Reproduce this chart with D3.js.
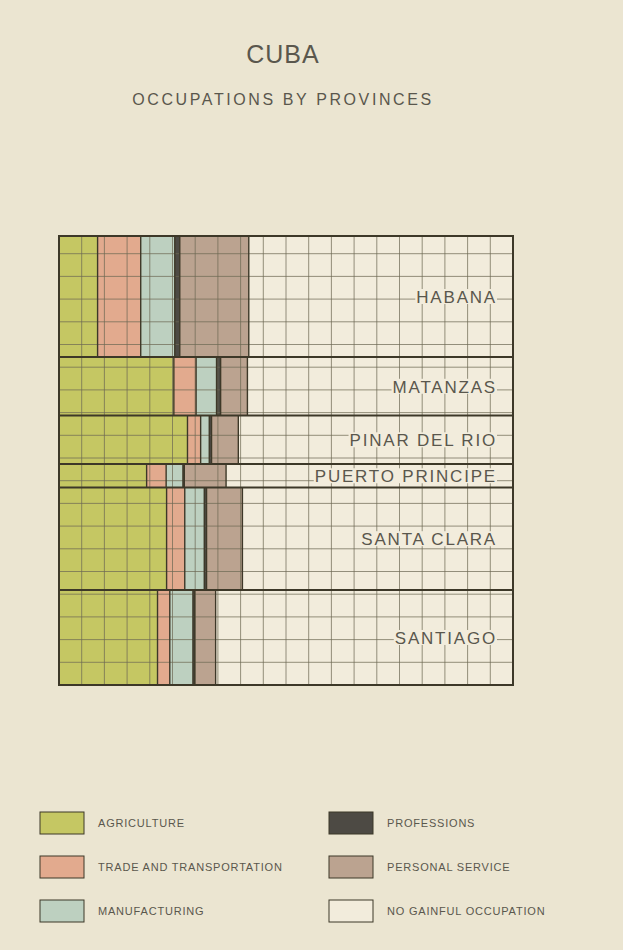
<!DOCTYPE html>
<html>
<head>
<meta charset="utf-8">
<script src="https://cdn.jsdelivr.net/npm/d3@7"></script>
<style>
  html, body { margin: 0; padding: 0; background: #ebe5d1; }
  svg { display: block; }
  text { font-family: "Liberation Sans", Arial, sans-serif; }
</style>
</head>
<body>
<svg id="chart" width="623" height="950"></svg>
<script>
// ---- data (read from the plate) ----
const provinces = ["HABANA", "MATANZAS", "PINAR DEL RIO", "PUERTO PRINCIPE", "SANTA CLARA", "SANTIAGO"];
const population = [424, 205, 170, 82, 359, 333]; // thousands, sets row heights
const categories = ["AGRICULTURE", "TRADE AND TRANSPORTATION", "MANUFACTURING", "PROFESSIONS", "PERSONAL SERVICE", "NO GAINFUL OCCUPATION"];
const agriculture     = [8.5, 25.3, 28.3, 19.3, 23.7, 21.7];
const trade           = [9.5, 4.9, 2.9, 4.3, 4.0, 2.7];
const manufacturing   = [7.5, 4.5, 1.9, 3.7, 4.3, 5.1];
const professions     = [1.1, 0.9, 0.5, 0.3, 0.5, 0.4];
const personalService = [15.2, 5.9, 5.9, 9.2, 7.9, 4.6];
const noGainful       = [58.2, 58.5, 60.5, 63.2, 59.6, 65.5];
const colors = ["#c5c763", "#e2aa8e", "#bdd0c0", "#4d4a44", "#bba390", "#f2ecdc"];
const title = "CUBA";
const subtitle = "OCCUPATIONS BY PROVINCES";

const series = [agriculture, trade, manufacturing, professions, personalService, noGainful];

const svg = d3.select("#chart");
const X0 = 59, X1 = 513, Y0 = 236, Y1 = 685;
const ink = "#3d3828";
const textInk = "#5a574d";

// title
svg.append("text").attr("x", 283).attr("y", 63).attr("text-anchor", "middle")
  .attr("font-size", 25).attr("letter-spacing", 1).attr("fill", textInk).text(title);
svg.append("text").attr("x", 283).attr("y", 105).attr("text-anchor", "middle")
  .attr("font-size", 16).attr("letter-spacing", 2.6).attr("fill", textInk).text(subtitle);

// scales
const total = d3.sum(population);
const cum = [0]; population.forEach((p, i) => cum.push(cum[i] + p));
const y = d3.scaleLinear().domain([0, total]).range([Y0, Y1]);
const x = d3.scaleLinear().domain([0, 100]).range([X0, X1]);

const rows = provinces.map((name, i) => {
  let acc = 0;
  const segs = series.map((s, k) => {
    const seg = { k, start: acc, end: acc + s[i] };
    acc += s[i];
    return seg;
  });
  segs[segs.length - 1].end = 100;
  return { name, i, top: cum[i], bottom: cum[i + 1], segs };
});

const g = svg.append("g");
// fills
rows.forEach(r => {
  g.selectAll(null).data(r.segs).enter().append("rect")
    .attr("x", d => x(d.start)).attr("width", d => Math.max(0, x(d.end) - x(d.start)))
    .attr("y", y(r.top)).attr("height", y(r.bottom) - y(r.top))
    .attr("fill", d => colors[d.k]);
});

// grid (square cells, anchored at bottom)
const step = (X1 - X0) / 20;
const xs = d3.range(1, 20).map(k => X0 + k * step);
const ys = d3.range(1, 20).map(k => Y1 - k * step).filter(v => v > Y0 + 1);
g.selectAll(null).data(xs).enter().append("line")
  .attr("x1", d => d).attr("x2", d => d).attr("y1", Y0).attr("y2", Y1)
  .attr("stroke", "#6e6a55").attr("stroke-width", 0.9).attr("opacity", 0.8);
g.selectAll(null).data(ys).enter().append("line")
  .attr("x1", X0).attr("x2", X1).attr("y1", d => d).attr("y2", d => d)
  .attr("stroke", "#6e6a55").attr("stroke-width", 0.9).attr("opacity", 0.8);

// segment boundaries
rows.forEach(r => {
  const bounds = r.segs.slice(0, -1).map(d => d.end);
  g.selectAll(null).data(bounds).enter().append("line")
    .attr("x1", d => x(d)).attr("x2", d => x(d))
    .attr("y1", y(r.top)).attr("y2", y(r.bottom))
    .attr("stroke", ink).attr("stroke-width", 1.4);
});

// row borders
g.selectAll(null).data(cum.slice(1, -1)).enter().append("line")
  .attr("x1", X0).attr("x2", X1).attr("y1", d => y(d)).attr("y2", d => y(d))
  .attr("stroke", ink).attr("stroke-width", 2);
g.append("rect").attr("x", X0).attr("y", Y0).attr("width", X1 - X0).attr("height", Y1 - Y0)
  .attr("fill", "none").attr("stroke", ink).attr("stroke-width", 2);

// province labels
rows.forEach(r => {
  const cy = (y(r.top) + y(r.bottom)) / 2;
  const lg = g.append("g");
  const t = lg.append("text").attr("x", 497).attr("y", cy + 6.5).attr("text-anchor", "end")
    .attr("font-size", 17).attr("letter-spacing", 1.8).attr("fill", textInk).text(r.name);
  const bb = t.node().getBBox();
  lg.insert("rect", "text").attr("x", bb.x - 1).attr("y", cy - 7.5).attr("width", bb.width + 1)
    .attr("height", 15).attr("fill", colors[5]);
});

// legend
const legX = [40, 329], legY = [823, 867, 911];
const leg = svg.append("g");
categories.forEach((c, k) => {
  const col = Math.floor(k / 3), row = k % 3;
  const lx = legX[col], ly = legY[row];
  leg.append("rect").attr("x", lx).attr("y", ly - 11).attr("width", 44).attr("height", 22)
    .attr("fill", colors[k]).attr("stroke", ink).attr("stroke-width", 1);
  leg.append("text").attr("x", lx + 58).attr("y", ly + 4).attr("font-size", 11)
    .attr("letter-spacing", 0.8).attr("fill", textInk).text(c);
});
</script>
</body>
</html>
